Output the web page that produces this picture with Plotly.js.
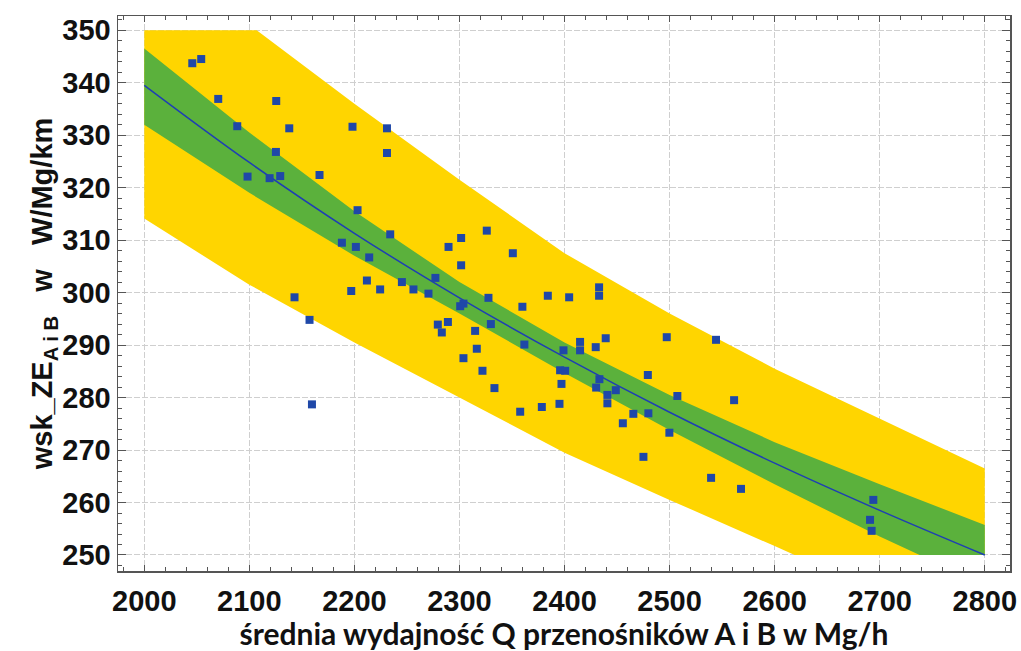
<!DOCTYPE html>
<html>
<head>
<meta charset="utf-8">
<script src="https://cdn.plot.ly/plotly-3.0.1.min.js"></script>
<style>html,body{margin:0;padding:0;background:#fff;}#chart{width:1021px;height:651px;}</style>
</head>
<body>
<div id="chart"></div>
<script>
// Measured points
const pointsX = [2045.7,2054.2,2070.4,2088.5,2098.3,2119.3,2129.4,2125.6,2125.3,2138.0,2198.2,2166.8,2203.0,
  2231.0,2231.0,2188.1,2201.4,2197.0,2143.0,2157.3,2159.6,2234.1,2214.1,2211.9,2224.5,2245.2,2256.2,2270.5,
  2277.1,2289.6,2301.6,2326.0,2301.6,2350.8,2303.8,2300.7,2327.6,2359.9,2384.1,2361.8,2329.9,2314.9,2279.4,
  2289.0,2283.2,2316.5,2303.8,2321.9,2333.3,2357.8,2378.4,2404.4,2432.9,2432.9,2399.0,2414.8,2414.8,2429.7,
  2439.2,2497.3,2544.2,2395.8,2400.6,2397.1,2395.2,2433.2,2430.1,2448.8,2440.8,2440.8,2479.3,2507.4,2561.4,
  2465.5,2479.8,2455.5,2499.8,2475.1,2539.5,2568.0,2693.9,2690.8,2692.3];
const pointsY = [343.7,344.5,336.9,331.7,322.1,321.8,322.2,336.5,326.8,331.3,331.6,322.4,315.7,
  331.3,326.6,309.5,308.7,300.3,299.1,294.8,278.7,311.1,306.7,302.3,300.6,302.0,300.6,299.8,
  302.8,308.7,310.4,311.8,305.2,307.5,297.9,297.4,299.0,297.3,299.4,290.1,294.0,292.7,293.9,
  294.4,292.4,289.3,287.5,285.1,281.8,277.3,278.2,299.1,301.0,299.4,289.0,290.6,289.0,289.6,
  291.3,291.5,291.0,285.2,285.1,282.6,278.8,283.5,281.9,281.4,280.5,278.9,284.3,280.3,279.5,
  276.9,277.0,275.1,273.3,268.7,264.7,262.6,260.5,256.7,254.6];

// Fitted curve
const fitX = [2000,2100,2200,2300,2400,2500,2600,2700,2800];
const fitY = [339.5,324.8,311.3,299.0,287.7,277.2,267.5,258.5,250.0];

// Confidence band (green)
const confUpperX = [2000,2100,2200,2300,2400,2500,2600,2700,2800];
const confUpperY = [346.5,330.5,315.5,302.0,290.5,280.5,271.5,263.5,255.7];
const confLowerX = [2000,2100,2200,2300,2400,2500,2600,2700,2738,2800];
const confLowerY = [332.0,319.0,307.0,296.0,284.7,273.8,263.5,253.5,250.0,250.0];

// Prediction band (yellow)
const predUpperX = [2000,2107,2200,2300,2400,2500,2600,2700,2800];
const predUpperY = [350.0,350.0,336.0,321.5,307.5,296.0,285.5,276.0,266.5];
const predLowerX = [2000,2100,2200,2300,2400,2500,2600,2619,2700,2800];
const predLowerY = [314.1,301.5,290.5,280.0,269.5,260.5,251.7,250.0,250.0,250.0];

const xTicks = [2000,2100,2200,2300,2400,2500,2600,2700,2800];
const yTicks = [250,260,270,280,290,300,310,320,330,340,350];

function band(ux, uy, lx, ly) {
  return {
    x: ux.concat(lx.slice().reverse()),
    y: uy.concat(ly.slice().reverse())
  };
}
const pb = band(predUpperX, predUpperY, predLowerX, predLowerY);
const cb = band(confUpperX, confUpperY, confLowerX, confLowerY);

const traces = [
  {x: pb.x, y: pb.y, type: 'scatter', mode: 'lines', fill: 'toself',
   fillcolor: '#FFD500', line: {width: 0, color: '#FFD500'}, hoverinfo: 'skip'},
  {x: cb.x, y: cb.y, type: 'scatter', mode: 'lines', fill: 'toself',
   fillcolor: '#5BB13C', line: {width: 0, color: '#5BB13C'}, hoverinfo: 'skip'},
  {x: fitX, y: fitY, type: 'scatter', mode: 'lines',
   line: {color: '#1E3FB4', width: 1.5, shape: 'spline'}},
  {x: pointsX, y: pointsY, type: 'scatter', mode: 'markers',
   marker: {symbol: 'square', size: 8, color: '#1F48A8'}}
];

const tickFont = {family: 'Liberation Sans, Arial, sans-serif', size: 29, color: '#111', weight: 'bold'};

const layout = {
  width: 1021, height: 651,
  margin: {l: 118, r: 11, t: 16, b: 80},
  paper_bgcolor: '#fff', plot_bgcolor: '#fff',
  showlegend: false,
  font: {family: 'Liberation Sans, Arial, sans-serif'},
  xaxis: {
    range: [1975, 2824],
    tickvals: xTicks, ticktext: xTicks.map(String),
    tickfont: tickFont,
    ticklabelstandoff: 4,
    ticks: 'inside', ticklen: 6, tickcolor: '#555', mirror: 'allticks',
    showline: true, linecolor: '#555', linewidth: 1.5,
    showgrid: true, gridcolor: '#cfcfcf', gridwidth: 1, griddash: '6px,2px',
    zeroline: false,
    minor: {dtick: 20, ticks: 'inside', ticklen: 4, tickcolor: '#555', showgrid: false},
    title: {text: 'średnia wydajność Q przenośników A i B w Mg/h',
            font: {family: 'Lato, Open Sans, sans-serif', size: 30, weight: 'bold', color: '#111'},
            standoff: 2}
  },
  yaxis: {
    range: [246.95, 352.7],
    tickvals: yTicks, ticktext: yTicks.map(String),
    tickfont: tickFont,
    ticks: 'inside', ticklen: 8, tickcolor: '#555', mirror: 'allticks',
    showline: true, linecolor: '#555', linewidth: 1.5,
    showgrid: true, gridcolor: '#cfcfcf', gridwidth: 1, griddash: '6px,2px',
    zeroline: false,
    minor: {dtick: 2, ticks: 'inside', ticklen: 4, tickcolor: '#555', showgrid: false},
    title: {text: 'wsk_ZE<sub>A i B</sub>\u00a0\u00a0\u00a0w\u00a0\u00a0\u00a0W/Mg/km',
            font: {family: 'Liberation Sans, Arial, sans-serif', size: 29, weight: 'bold', color: '#111'},
            standoff: 0}
  }
};

Plotly.newPlot('chart', traces, layout, {displayModeBar: false, staticPlot: true});
</script>
</body>
</html>
